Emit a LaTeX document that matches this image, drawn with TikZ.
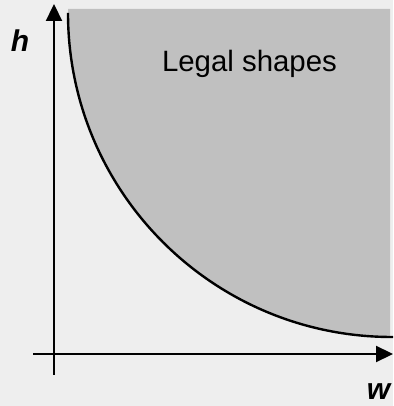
\documentclass[tikz,border=0pt]{standalone}
\usepackage{fontspec}
\setmainfont{Liberation Sans}
\usetikzlibrary{arrows.meta}
\definecolor{bggray}{HTML}{EEEEEE}
\definecolor{legalgray}{HTML}{C0C0C0}
\begin{document}
\begin{tikzpicture}[
  x=1pt, y=1pt,
  axis/.style={line width=2.2pt, -{Triangle[length=17pt,width=16pt]}},
  bound/.style={line width=2.4pt},
  axlabel/.style={font=\fontsize{30}{34}\selectfont\bfseries\itshape, anchor=base, inner sep=0pt},
  region/.style={font=\fontsize{29.4}{34}\selectfont, anchor=base, inner sep=0pt}]
\fill[bggray] (0,0) rectangle (393,406);
\useasboundingbox (0,0) rectangle (393,406);
% legal region above the curve
\begin{scope}
  \clip (0,0) rectangle (390,397);
  \fill[legalgray] (68,397) -- (68,393) arc[start angle=180, end angle=270, radius=324] -- (392,397) -- cycle;
\end{scope}
\draw[bound] (68,393) arc[start angle=180, end angle=270, radius=324] -- (393,69);
% axes
\coordinate (ybot) at (54,31);
\coordinate (ytop) at (54,402);
\coordinate (xleft) at (33,52);
\coordinate (xright) at (393,52);
\draw[axis] (ybot) -- (ytop);
\draw[axis] (xleft) -- (xright);
\node[axlabel] (hlab) at (20,354) {h};
\node[axlabel] (wlab) at (378.5,6) {w};
\node[region] (legal) at (249.5,334) {Legal shapes};
\end{tikzpicture}
\end{document}
